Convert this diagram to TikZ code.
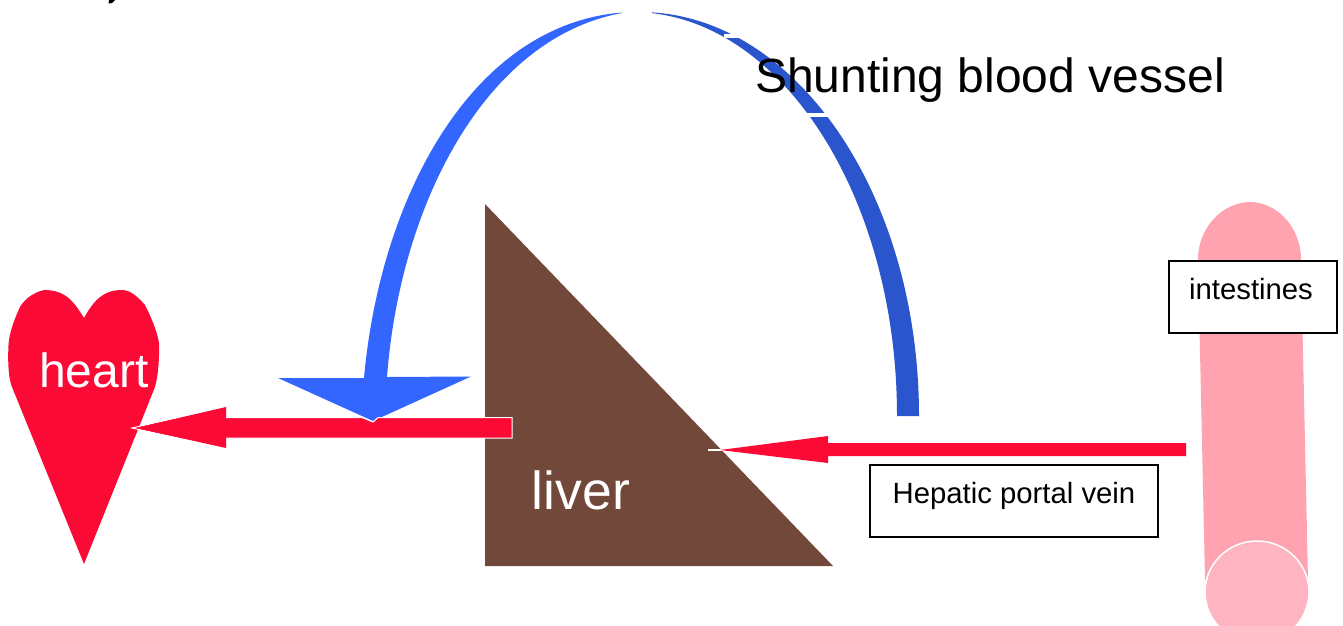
\documentclass[tikz,border=0pt]{standalone}
\usepackage{fontspec}
\setmainfont{Liberation Sans}
\definecolor{bloodred}{HTML}{FB0A35}
\definecolor{shuntleft}{HTML}{3366FF}
\definecolor{shuntright}{HTML}{2B55CC}
\definecolor{liverbrown}{HTML}{72483A}
\definecolor{gutpink}{HTML}{FFA3B1}
\definecolor{gutend}{HTML}{FFB5C1}
\tikzset{
  labelbox/.style={draw=black,line width=1.5pt,fill=white,minimum height=72pt,inner sep=0pt},
  smalltext/.style={anchor=base,inner sep=0pt,font=\fontsize{29.3}{32}\selectfont,text=black},
  whitelabel/.style={text=white,inner sep=0pt,anchor=base},
}
\begin{document}
\begin{tikzpicture}[x=1pt,y=-1pt]
\useasboundingbox (0,0) rectangle (1343,625);
% clipped text fragment
\fill[black] (109,0) -- (115,0) -- (112,3) -- (108.5,3.5) -- cycle;
% shunt vessel, right half (two quarter ellipses)
\fill[shuntright] (640,12) .. controls (794,12) and (919,193) .. (919,416) -- (897,416)
  .. controls (897,193) and (778,12) .. (632,12) -- cycle;
\fill[white] (620,6) rectangle (652,24);
\fill[white] (724,34) rectangle (745,38);
\fill[white] (805,112.5) rectangle (832,116.5);
% shunt vessel, left half with head
\fill[shuntleft] (622,12.5) .. controls (470,25) and (380,200) .. (364,378) -- (278,378)
  -- (373,421) -- (471,376.5) -- (387,377)
  .. controls (400,205) and (485,38) .. (622,13) -- cycle;
% liver
\fill[liverbrown] (485,204) -- (833,566) -- (485,566) -- cycle;
\node[whitelabel,font=\fontsize{53.5}{60}\selectfont] (liver) at (581,509) {liver};
% heart
\fill[bloodred] (84,318) .. controls (74,302) and (66,290) .. (44,290)
  .. controls (32,293) and (24,300) .. (20,307) .. controls (13,322) and (9,335) .. (8.5,345)
  .. controls (7.5,365) and (9,380) .. (12,387) -- (84,564) -- (155,387)
  .. controls (158.5,375) and (159.5,355) .. (159,343) .. controls (157,330) and (150,315) .. (145,305)
  .. controls (137,296) and (130,290) .. (122,290) .. controls (102,290) and (93,302) .. (84,318) -- cycle;
\node[whitelabel,font=\fontsize{48}{50}\selectfont] (heart) at (94,387) {heart};
% gut
\fill[gutpink] (1198,260) .. controls (1198,225) and (1225,202) .. (1250,202)
  .. controls (1275,202) and (1301,225) .. (1301,260)
  -- (1308,580) -- (1205,580) -- cycle;
\fill[gutend,draw=white,line width=1.5pt] (1257,592) ellipse[x radius=52,y radius=51];
% outflow arrow (liver to heart)
\fill[bloodred,draw=white,line width=1pt] (512,417.5) -- (378,417.5) -- (373,422) -- (362,417.5) -- (226,417.5) -- (226,407) -- (132,428) -- (226,448) -- (226,438) -- (512,438) -- cycle;
\fill[bloodred] (226,407) -- (136,428) -- (226,448) -- cycle;
% portal vein arrow
\fill[white] (708,448.5) rectangle (724,451);
\fill[bloodred] (1186,443) -- (828,443) -- (828,436) -- (720,450) -- (828,463) -- (828,456) -- (1186,456) -- cycle;
% labels
\node[labelbox,minimum width=288pt,anchor=north west] (portal) at (869,464) {};
\node[smalltext] at (1014,503) {Hepatic portal vein};
\node[labelbox,minimum width=168pt,anchor=north west] (guts) at (1168,260) {};
\node[smalltext] at (1251,299) {intestines};
\node[anchor=base,inner sep=0pt,font=\fontsize{48}{50}\selectfont] (shunt) at (990,92) {Shunting blood vessel};
\end{tikzpicture}
\end{document}
